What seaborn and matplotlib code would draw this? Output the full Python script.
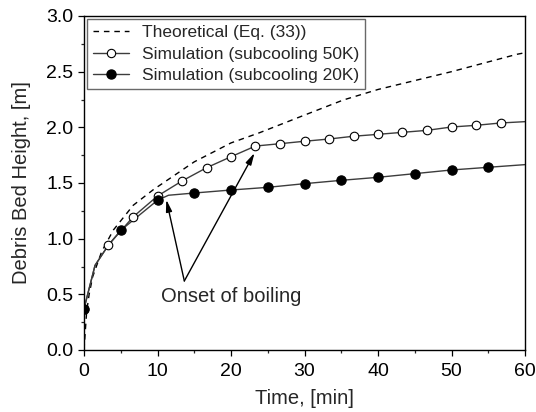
import matplotlib
matplotlib.use("Agg")
import matplotlib.pyplot as plt
from matplotlib.lines import Line2D
from matplotlib.ticker import MultipleLocator
import pandas as pd
import seaborn as sns

# Theoretical bed height, Eq. (33)
theory_t = [0, 0.14, 0.36, 0.7, 1.18, 2.4, 4.0, 6.7, 9.43, 15, 20, 23.9, 30, 35.3, 40, 50, 58.9, 60]
theory_h = [0, 0.135, 0.344, 0.50, 0.658, 0.883, 1.078, 1.30, 1.44, 1.69, 1.86, 1.952, 2.11, 2.246, 2.34, 2.50, 2.656, 2.67]

# Simulation, subcooling 50 K (marked samples)
sim50_t = [0, 3.33, 6.67, 10, 13.33, 16.67, 20, 23.33, 26.67, 30, 33.33,
           36.67, 40, 43.33, 46.67, 50, 53.33, 56.67]
sim50_h = [0.37, 0.943, 1.195, 1.383, 1.518, 1.637, 1.736, 1.832, 1.853, 1.875,
           1.895, 1.920, 1.937, 1.955, 1.973, 2.003, 2.018, 2.039]
# full curve (includes unmarked samples)
sim50_line_t = [0, 1.5] + sim50_t[1:] + [60]
sim50_line_h = [0.37, 0.76] + sim50_h[1:] + [2.051]

# Simulation, subcooling 20 K (marked samples)
sim20_t = [0, 5, 10, 15, 20, 25, 30, 35, 40, 45, 50, 55]
sim20_h = [0.37, 1.075, 1.345, 1.410, 1.437, 1.461, 1.494, 1.524, 1.551, 1.584, 1.617, 1.641]
sim20_line_t = [0, 1.5, 3.33, 5, 10, 11.5, 15, 20, 25, 30, 35, 40, 45, 50, 55, 60]
sim20_line_h = [0.37, 0.76, 0.943, 1.075, 1.345, 1.39, 1.410, 1.437, 1.461, 1.494,
                1.524, 1.551, 1.584, 1.617, 1.641, 1.665]

legend_labels = ["Theoretical (Eq. (33))",
                 "Simulation (subcooling 50K)",
                 "Simulation (subcooling 20K)"]

sns.set_style("ticks")
plt.rcParams["font.family"] = ["Liberation Sans", "DejaVu Sans"]

fig = plt.figure(figsize=(5.36, 4.12), dpi=100)
ax = fig.add_axes([84 / 536, 1 - 350 / 412, (525 - 84) / 536, (350 - 16) / 412])

line_col = "#3c3c3c"

theory = pd.DataFrame({"t": theory_t, "h": theory_h})
sns.lineplot(data=theory, x="t", y="h", ax=ax, color="black", lw=1.0,
             dashes=False, linestyle=(0, (4, 3.5)), sort=False)

l50 = pd.DataFrame({"t": sim50_line_t, "h": sim50_line_h})
sns.lineplot(data=l50, x="t", y="h", ax=ax, color=line_col, lw=1.0, sort=False)
l20 = pd.DataFrame({"t": sim20_line_t, "h": sim20_line_h})
sns.lineplot(data=l20, x="t", y="h", ax=ax, color=line_col, lw=1.0, sort=False)

m50 = pd.DataFrame({"t": sim50_t, "h": sim50_h})
sns.scatterplot(data=m50, x="t", y="h", ax=ax, marker="o", s=38,
                facecolor="white", edgecolor="black", linewidth=0.8, zorder=4)
m20 = pd.DataFrame({"t": sim20_t, "h": sim20_h})
sns.scatterplot(data=m20, x="t", y="h", ax=ax, marker="o", s=45,
                color="black", edgecolor="black", linewidth=0.8, zorder=5)

# "Onset of boiling" annotation
ax.text(10.5, 0.48, "Onset of boiling", fontsize=14.5, va="center", ha="left")
vertex = (13.65, 0.62)
for tip in [(11.2, 1.35), (23.2, 1.77)]:
    ax.annotate("", xy=tip, xytext=vertex,
                arrowprops=dict(arrowstyle="-|>,head_length=0.7,head_width=0.18",
                                color="black", lw=1.0, shrinkA=0, shrinkB=0))

ax.set_xlim(0, 60)
ax.set_ylim(0, 3.0)
ax.xaxis.set_minor_locator(MultipleLocator(5))
ax.yaxis.set_minor_locator(MultipleLocator(0.25))
ax.set_xticks([0, 10, 20, 30, 40, 50, 60])
ax.set_xticklabels(["0", "10", "20", "30", "40", "50", "60"])
ax.set_yticks([0, 0.5, 1.0, 1.5, 2.0, 2.5, 3.0])
ax.set_yticklabels(["0.0", "0.5", "1.0", "1.5", "2.0", "2.5", "3.0"])
ax.tick_params(axis="x", which="major", pad=5)
ax.tick_params(which="major", direction="out", length=4, width=0.9,
               labelsize=14, colors="black")
ax.tick_params(which="minor", direction="out", length=2.5, width=0.9)
for s in ax.spines.values():
    s.set_visible(True)
    s.set_linewidth(1.0)
    s.set_color("black")

ax.set_xlabel("Time, [min]", fontsize=14.5, labelpad=7)
ax.set_ylabel("Debris Bed Height, [m]", fontsize=14.5, labelpad=11)

handles = [
    Line2D([], [], color="black", lw=1.0, linestyle=(0, (4, 3.5))),
    Line2D([], [], color=line_col, lw=1.0, marker="o", markersize=6,
           markerfacecolor="white", markeredgecolor="black", markeredgewidth=0.8),
    Line2D([], [], color=line_col, lw=1.0, marker="o", markersize=6.5,
           markerfacecolor="black", markeredgecolor="black"),
]
leg = ax.legend(handles, legend_labels, loc="upper left", fontsize=12.5,
                frameon=True, fancybox=False, edgecolor="#444444",
                borderaxespad=0.2, handlelength=2.1, handletextpad=0.75,
                borderpad=0.3, labelspacing=0.38, markerscale=1.0)
leg.get_frame().set_linewidth(1.0)

fig.savefig("out.png", dpi=100)
